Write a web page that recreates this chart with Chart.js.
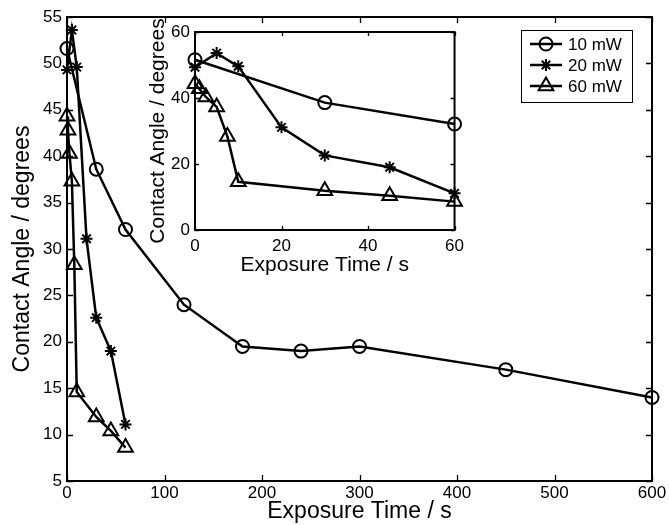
<!DOCTYPE html>
<html>
<head>
<meta charset="utf-8">
<script src="https://cdn.jsdelivr.net/npm/chart.js@4.4.1/dist/chart.umd.min.js"></script>
<style>
  html, body { margin: 0; padding: 0; background: #fff; }
  #wrap { position: relative; width: 669px; height: 525px; }
  #mainChart { position: absolute; left: 0; top: 0; }
  #insetChart { position: absolute; left: 120px; top: 10px; }
</style>
</head>
<body>
<div id="wrap">
  <canvas id="mainChart" width="669" height="525"></canvas>
  <canvas id="insetChart" width="350" height="275"></canvas>
</div>
<script>
// exposure time (s) and contact angle (degrees) per laser power
var seriesLabels = ['10 mW', '20 mW', '60 mW'];
var time10 = [0, 30, 60, 120, 180, 240, 300, 450, 600];
var angle10 = [51.6, 38.6, 32.1, 24.0, 19.5, 19.0, 19.5, 17.0, 14.0];
var time20 = [0, 5, 10, 20, 30, 45, 60];
var angle20 = [49.3, 53.6, 49.6, 31.1, 22.6, 19.0, 11.1];
var time60 = [0, 1, 2.5, 5, 7.5, 10, 30, 45, 60];
var angle60 = [44.3, 42.8, 40.3, 37.3, 28.3, 14.6, 11.9, 10.4, 8.6];

var mainXTicks = [0, 100, 200, 300, 400, 500, 600];
var mainYTicks = [5, 10, 15, 20, 25, 30, 35, 40, 45, 50, 55];
var insetXTicks = [0, 20, 40, 60];
var insetYTicks = [0, 20, 40, 60];

var FONT = "'Liberation Sans', Arial, Helvetica, sans-serif";

function pairs(xs, ys) {
    return xs.map(function (x, i) { return {x: x, y: ys[i]}; });
}

function makeDatasets(scale) {
    var styles = ['circle', 'star', 'triangle'];
    var radii = [6.5 * scale, 6 * scale, 8.5 * scale];
    var data = [pairs(time10, angle10), pairs(time20, angle20), pairs(time60, angle60)];
    return data.map(function (d, i) {
        return {
            label: seriesLabels[i],
            data: d,
            borderColor: '#000',
            backgroundColor: 'rgba(0,0,0,0)',
            borderWidth: 2.5,
            pointStyle: styles[i],
            pointRadius: radii[i],
            pointBorderWidth: 2,
            pointBorderColor: '#000',
            pointBackgroundColor: 'rgba(0,0,0,0)',
            tension: 0,
            clip: false
        };
    });
}

// axis box with inward tick marks, drawn from the scales themselves
var framePlugin = {
    id: 'frame',
    beforeDatasetsDraw: function (chart, args, opts) {
        var a = chart.chartArea, ctx = chart.ctx;
        if (opts.fill) {
            ctx.save();
            ctx.fillStyle = opts.fill;
            ctx.fillRect(a.left, a.top, a.right - a.left, a.bottom - a.top);
            ctx.restore();
        }
    },
    afterDatasetsDraw: function (chart, args, opts) {
        var a = chart.chartArea, ctx = chart.ctx;
        var xs = chart.scales.x, ys = chart.scales.y;
        var len = opts.tick || 6;
        ctx.save();
        ctx.strokeStyle = '#000';
        ctx.lineWidth = opts.width || 2;
        ctx.strokeRect(a.left, a.top, a.right - a.left, a.bottom - a.top);
        ctx.lineWidth = 1.3;
        ctx.beginPath();
        xs.ticks.forEach(function (t) {
            var px = Math.round(xs.getPixelForValue(t.value)) + 0.5;
            ctx.moveTo(px, a.bottom); ctx.lineTo(px, a.bottom - len);
            ctx.moveTo(px, a.top); ctx.lineTo(px, a.top + len);
        });
        ys.ticks.forEach(function (t) {
            var py = Math.round(ys.getPixelForValue(t.value)) + 0.5;
            ctx.moveTo(a.left, py); ctx.lineTo(a.left + len, py);
            ctx.moveTo(a.right, py); ctx.lineTo(a.right - len, py);
        });
        ctx.stroke();
        ctx.restore();
    }
};

// boxed legend with line + marker samples
var boxLegendPlugin = {
    id: 'boxLegend',
    afterDraw: function (chart, args, opts) {
        if (!opts.show) return;
        var ctx = chart.ctx;
        ctx.save();
        ctx.fillStyle = '#fff';
        ctx.fillRect(opts.left, opts.top, opts.right - opts.left, opts.bottom - opts.top);
        ctx.strokeStyle = '#000';
        ctx.lineWidth = 1;
        ctx.strokeRect(opts.left + 0.5, opts.top + 0.5, opts.right - opts.left, opts.bottom - opts.top);
        chart.data.datasets.forEach(function (ds, i) {
            var y = opts.rows[i];
            ctx.strokeStyle = '#000';
            ctx.lineWidth = 2.5;
            ctx.beginPath();
            ctx.moveTo(opts.lineStart, y);
            ctx.lineTo(opts.lineEnd, y);
            ctx.stroke();
            var mx = (opts.lineStart + opts.lineEnd) / 2;
            if (Chart.helpers && Chart.helpers.drawPoint) {
                ctx.lineWidth = 2;
                ctx.fillStyle = 'rgba(0,0,0,0)';
                Chart.helpers.drawPoint(ctx, {pointStyle: ds.pointStyle, radius: ds.pointRadius, rotation: 0, borderWidth: 2}, mx, y);
            }
            ctx.fillStyle = '#000';
            ctx.font = '17px ' + FONT;
            ctx.textBaseline = 'middle';
            ctx.textAlign = 'left';
            ctx.fillText(ds.label, opts.textX, y + 1);
        });
        ctx.restore();
    }
};

function axis(min, max, step, fontSize, pad, titleText, titleSize, titlePad, fitFn) {
    return {
        type: 'linear',
        min: min,
        max: max,
        ticks: {stepSize: step, color: '#000', padding: pad, font: {family: FONT, size: fontSize}, maxRotation: 0},
        grid: {display: false, drawTicks: false},
        border: {display: false},
        title: {display: true, text: titleText, color: '#000', font: {family: FONT, size: titleSize}, padding: titlePad},
        afterFit: fitFn
    };
}

document.addEventListener('DOMContentLoaded', function () {
    new Chart(document.getElementById('mainChart').getContext('2d'), {
        type: 'line',
        data: {datasets: makeDatasets(1)},
        options: {
            responsive: false,
            animation: false,
            layout: {padding: {top: 17, right: 17, left: 0, bottom: 0}},
            plugins: {
                legend: {display: false},
                tooltip: {enabled: false},
                frame: {width: 2, tick: 6},
                boxLegend: {show: true, left: 521, top: 30, right: 632, bottom: 102,
                    rows: [44, 65, 86], lineStart: 530, lineEnd: 562, textX: 568}
            },
            scales: {
                x: axis(mainXTicks[0], mainXTicks[mainXTicks.length - 1], 100, 17, 2,
                    'Exposure Time / s', 23, {top: 0, bottom: 0},
                    function (s) { s.height = 44; }),
                y: axis(mainYTicks[0], mainYTicks[mainYTicks.length - 1], 5, 17, 5,
                    'Contact Angle / degrees', 23, {top: 9, bottom: 0},
                    function (s) { s.width = 67; })
            }
        },
        plugins: [framePlugin, boxLegendPlugin]
    });

    new Chart(document.getElementById('insetChart').getContext('2d'), {
        type: 'line',
        data: {datasets: makeDatasets(1)},
        options: {
            responsive: false,
            animation: false,
            layout: {padding: {top: 22, right: 9, left: 0, bottom: 0}},
            plugins: {
                legend: {display: false},
                tooltip: {enabled: false},
                frame: {width: 2, tick: 4, fill: '#fff'},
                boxLegend: {show: false}
            },
            scales: {
                x: axis(insetXTicks[0], insetXTicks[insetXTicks.length - 1], 20, 17, 6,
                    'Exposure Time / s', 21, {top: 0, bottom: 7},
                    function (s) { s.height = 55; }),
                y: axis(insetYTicks[0], insetYTicks[insetYTicks.length - 1], 20, 17, 5,
                    'Contact Angle / degrees', 21, {top: 26, bottom: 0},
                    function (s) { s.width = 75; })
            }
        },
        plugins: [framePlugin, boxLegendPlugin]
    });
});
</script>
</body>
</html>
